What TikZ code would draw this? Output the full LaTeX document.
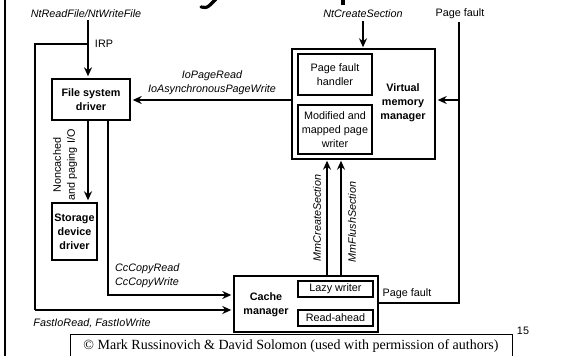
\documentclass[tikz,border=0pt]{standalone}
\usepackage{fontspec}
\setmainfont{Liberation Sans}
\newfontfamily\timesfont{Liberation Serif}
\usetikzlibrary{arrows.meta}
\begin{document}
\begin{tikzpicture}[x=1pt,y=-1pt,
  fnt/.style={font=\fontsize{10.8}{14}\selectfont},
  box/.style={draw,line width=1.4pt,inner sep=0pt,align=center,font=\fontsize{10.8}{14}\selectfont\bfseries},
  inbox/.style={draw,line width=1.1pt,inner sep=0pt,align=center,font=\fontsize{10.8}{14}\selectfont},
  lbl/.style={inner sep=0pt,align=center,font=\fontsize{10.8}{14}\selectfont},
  blbl/.style={inner sep=0pt,align=center,font=\fontsize{10.8}{14}\selectfont\bfseries},
  ilbl/.style={inner sep=0pt,align=center,font=\fontsize{10.8}{14}\selectfont\itshape},
  conn/.style={line width=2.4pt},
  arr/.style={conn,-{Stealth[length=9pt,width=8pt]}},
]
\useasboundingbox (0,0) rectangle (568,356);
% title fragments and left border
\draw[line width=3.2pt,line cap=round] (216,-1) -- (210,5) .. controls (207,8) and (204,8) .. (201,7);
\draw[line width=3.4pt] (343,-1) -- (343,5);
\draw[line width=2.4pt] (5,0) -- (5,356);

% boxes
\node[box,minimum width=78,minimum height=41] (fsd) at (91,99.5) {File system\\driver};
\node[box,minimum width=45,minimum height=57] (sdd) at (74.5,231.5) {Storage\\device\\driver};
\node[box,minimum width=143,minimum height=110] (vmm) at (363.5,104) {};
\node[inbox,minimum width=74,minimum height=41] (pfh) at (335,74.5) {Page fault\\handler};
\node[inbox,minimum width=74,minimum height=49] (mpw) at (335,129.5) {Modified and\\mapped page\\writer};
\node[blbl] (vmml) at (403,103) {Virtual\\memory\\manager};
\node[box,minimum width=144,minimum height=56] (cm) at (306,304) {};
\node[inbox,minimum width=75,minimum height=16] (lw) at (335.5,289) {Lazy writer};
\node[inbox,minimum width=75,minimum height=16] (ra) at (335.5,318) {Read-ahead};
\node[blbl] (cml) at (266,305) {Cache\\manager};

% labels
\node[ilbl] (ntrw) at (86,14) {NtReadFile/NtWriteFile};
\node[ilbl] (ntcs) at (363,14) {NtCreateSection};
\node[lbl] (pf1) at (460,14) {Page fault};
\node[lbl] (irp) at (104,44) {IRP};
\node[ilbl] (iopr) at (212,82.5) {IoPageRead\\IoAsynchronousPageWrite};
\node[lbl,rotate=90] (nc) at (65,165) {Noncached\\and paging I/O};
\node[ilbl,align=left,anchor=west] (cc) at (115,276) {CcCopyRead\\CcCopyWrite};
\node[ilbl] (fio) at (92,323) {FastIoRead, FastIoWrite};
\node[ilbl,rotate=90] (mmcs) at (317,218) {MmCreateSection};
\node[ilbl,rotate=90] (mmfs) at (352,222) {MmFlushSection};
\node[lbl] (pf2) at (407,294) {Page fault};

% connectors
\coordinate (irpTop) at (88,20);
\coordinate (fj) at (88,44);
\coordinate (fl) at (35,310);
\coordinate (ccb) at (108,295);
\coordinate (pfx) at (459,22);
\coordinate (pfy) at (459,100);
\coordinate (a1) at (327,0);
\coordinate (a2) at (341,0);

\draw[arr,shorten >=2pt] (irpTop) -- (irpTop |- fsd.north);
\draw[conn] (fj) -| (fl);
\draw[arr,shorten >=2pt] (fl) -- (fl -| cm.west);
\draw[arr,shorten >=2pt] (ccb |- fsd.south) -- (ccb) -- (ccb -| cm.west);
\draw[arr,shorten >=2pt] (irpTop |- fsd.south) -- (irpTop |- sdd.north);
\draw[arr,shorten >=2pt] (pfy -| vmm.west) -- (pfy -| fsd.east);
\draw[arr,shorten >=1pt] (ntcs.south) ++(0,3) -- (ntcs.south |- vmm.north);
\draw[conn] (pfx) |- (cm.east |- 0,303);
\draw[arr,shorten >=2pt] (pfy) -- (pfy -| vmm.east);
\draw[arr,shorten >=1pt] (a1 |- cm.north) -- (a1 |- vmm.south);
\draw[arr,shorten >=1pt] (a2 |- cm.north) -- (a2 |- vmm.south);

% footer
\node[draw,line width=0.8pt,inner sep=0pt,minimum width=442,minimum height=24,font=\timesfont\fontsize{14}{16}\selectfont] (copy) at (291,346) {© Mark Russinovich \& David Solomon (used with permission of authors)};
\node[lbl] (pg) at (523,331) {15};
\end{tikzpicture}
\end{document}
